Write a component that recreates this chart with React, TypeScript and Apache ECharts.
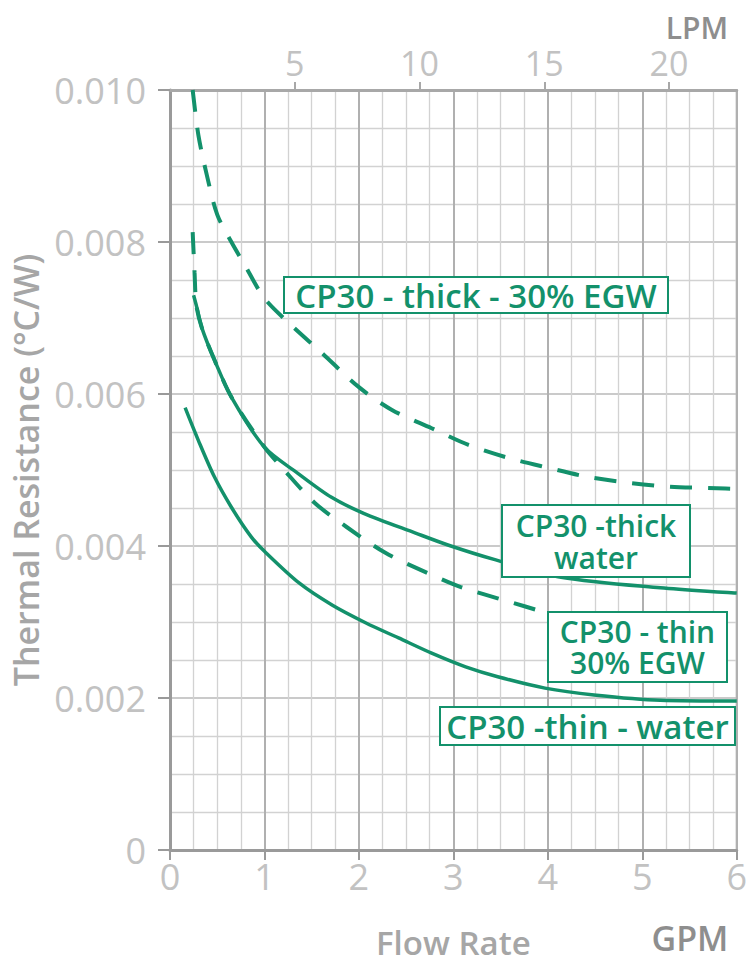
import React, { useEffect, useRef } from "react";
import * as echarts from "echarts";

// ---- data ----
const gpmMax = 6;
const lpmPerGpm = 3.785411784;
const yTicksMax = 0.01;
const lpmTicks = [5, 10, 15, 20];

const thickEgwX = [0.24, 0.3, 0.39, 0.5, 0.65, 0.79, 1.0, 1.28, 1.6, 2.0, 2.35, 2.77, 3.16, 3.58, 4.0, 4.42, 4.87, 5.29, 5.79, 6.0];
const thickEgwR = [0.0100, 0.00941, 0.00888, 0.00836, 0.0080, 0.0077, 0.00726, 0.00691, 0.00655, 0.00609, 0.00579, 0.00555, 0.00533, 0.00516, 0.00503, 0.00491, 0.00483, 0.00478, 0.00476, 0.00475];

const thinEgwX = [0.24, 0.26, 0.28, 0.34, 0.47, 0.65, 1.0, 1.18, 1.53, 1.87, 2.28, 2.7, 3.08, 3.61, 3.96];
const thinEgwR = [0.00813, 0.0076, 0.00716, 0.00686, 0.00645, 0.00596, 0.0053, 0.00504, 0.00457, 0.00425, 0.00391, 0.00366, 0.00346, 0.00326, 0.00313];

const thickWaterX = [0.25, 0.28, 0.34, 0.47, 0.65, 1.0, 1.35, 1.71, 2.05, 2.6, 2.95, 3.44, 4.14, 5.19, 6.0];
const thickWaterR = [0.0073, 0.00716, 0.00686, 0.00645, 0.00596, 0.0053, 0.00496, 0.00464, 0.00443, 0.00417, 0.00401, 0.00382, 0.00359, 0.00345, 0.00338];

const thinWaterX = [0.16, 0.3, 0.47, 0.65, 0.86, 1.0, 1.37, 1.72, 2.07, 2.42, 2.77, 3.13, 3.47, 3.97, 4.49, 5.19, 6.0];
const thinWaterR = [0.00582, 0.00539, 0.00491, 0.00451, 0.00412, 0.00393, 0.00351, 0.00322, 0.00299, 0.00279, 0.00259, 0.00241, 0.00228, 0.00213, 0.00204, 0.00197, 0.00196];

const seriesNames = ["CP30 - thick - 30% EGW", "CP30 - thin - 30% EGW", "CP30 - thick - water", "CP30 - thin - water"];

const GREEN = "#13916b";
const FONT = "'Open Sans', 'Noto Sans', sans-serif";

const zip = (xs: number[], ys: number[]) => xs.map((x, i) => [x, ys[i]]);

function labelBox(cx: number, cy: number, w: number, h: number, lines: string[], fontSize: number, lineGap: number) {
  const top = cy - ((lines.length - 1) * lineGap) / 2;
  return {
    type: "group",
    z: 50,
    children: [
      {
        type: "rect",
        z: 50,
        shape: { x: cx - w / 2, y: cy - h / 2, width: w, height: h },
        style: { fill: "#ffffff", stroke: GREEN, lineWidth: 2 },
      },
      ...lines.map((t, i) => ({
        type: "text",
        z: 51,
        x: cx,
        y: top + i * lineGap,
        style: {
          text: t,
          fill: GREEN,
          fontSize,
          fontWeight: 600,
          fontFamily: FONT,
          align: "center",
          verticalAlign: "middle",
          lineHeight: fontSize,
        },
      })),
    ],
  };
}

export default function App() {
  const ref = useRef<HTMLDivElement>(null);

  useEffect(() => {
    if (!ref.current) return;
    const chart = echarts.init(ref.current, undefined, { renderer: "svg" });

    const dashed = { width: 4, type: [22, 16], color: GREEN, cap: "butt" };
    const solid = { width: 3.5, type: "solid", color: GREEN };
    const common = { type: "line", showSymbol: false, symbol: "none", smooth: 0.3 };

    const option: any = {
      animation: false,
      backgroundColor: "#ffffff",
      grid: {
        left: 170,
        right: 10,
        top: 90,
        bottom: 114,
        show: true,
        borderColor: "#a8a8a8",
        borderWidth: 2,
        backgroundColor: "transparent",
      },
      xAxis: [
        {
          type: "value",
          position: "bottom",
          min: 0,
          max: gpmMax,
          interval: 1,
          name: "Flow Rate",
          nameLocation: "middle",
          nameGap: 76,
          nameTextStyle: { fontSize: 33, fontWeight: 600, color: "#a6a6a6", fontFamily: FONT },
          axisLine: { show: true, lineStyle: { color: "#9a9a9a", width: 3 } },
          axisTick: { show: true, inside: false, length: 10, lineStyle: { color: "#9a9a9a", width: 2 } },
          axisLabel: { fontSize: 36, color: "#c2c2c2", fontFamily: FONT, margin: 8 },
          splitLine: { show: true, lineStyle: { color: "#b0b0b0", width: 2 } },
          minorTick: { show: false, splitNumber: 4 },
          minorSplitLine: { show: true, lineStyle: { color: "#d2d2d2", width: 1.3 } },
        },
        {
          type: "value",
          position: "top",
          min: 0,
          max: gpmMax * lpmPerGpm,
          interval: 5,
          axisLine: { show: true, lineStyle: { color: "#a8a8a8", width: 3 } },
          axisTick: { show: true, inside: false, length: 8, customValues: lpmTicks, lineStyle: { color: "#a8a8a8", width: 2 } },
          axisLabel: {
            fontSize: 34,
            color: "#c2c2c2",
            fontFamily: FONT,
            margin: 10,
            customValues: lpmTicks,
            formatter: (v: number) => (lpmTicks.indexOf(v) >= 0 ? String(v) : ""),
          },
          splitLine: { show: false },
        },
      ],
      yAxis: {
        type: "value",
        min: 0,
        max: yTicksMax,
        interval: 0.002,
        name: "Thermal Resistance (°C/W)",
        nameLocation: "middle",
        nameGap: 126,
        nameTextStyle: { fontSize: 34, fontWeight: 600, color: "#a6a6a6", fontFamily: FONT },
        axisLine: { show: true, lineStyle: { color: "#9a9a9a", width: 3 } },
        axisTick: { show: true, inside: false, length: 12, lineStyle: { color: "#9a9a9a", width: 2 } },
        axisLabel: {
          fontSize: 36,
          color: "#c2c2c2",
          fontFamily: FONT,
          margin: 24,
          formatter: (v: number) => (v === 0 ? "0" : v.toFixed(3)),
        },
        splitLine: { show: true, lineStyle: { color: "#b8b8b8", width: 1.6 } },
        minorTick: { show: false, splitNumber: 4 },
        minorSplitLine: { show: true, lineStyle: { color: "#d2d2d2", width: 1.3 } },
      },
      series: [
        { ...common, name: seriesNames[0], data: zip(thickEgwX, thickEgwR), lineStyle: dashed, z: 3 },
        { ...common, name: seriesNames[1], data: zip(thinEgwX, thinEgwR), lineStyle: dashed, z: 3 },
        { ...common, name: seriesNames[2], data: zip(thickWaterX, thickWaterR), lineStyle: solid, z: 4 },
        { ...common, name: seriesNames[3], data: zip(thinWaterX, thinWaterR), lineStyle: solid, z: 4 },
      ],
      graphic: [
        labelBox(476, 295, 384, 36, ["CP30 - thick - 30% EGW"], 33, 0),
        labelBox(596, 541, 188, 72, ["CP30 -thick", "water"], 30, 32),
        labelBox(637.5, 647, 179, 70, ["CP30 - thin", "30% EGW"], 30, 31),
        labelBox(587.5, 726, 295, 38, ["CP30 -thin - water"], 33, 0),
        {
          type: "text",
          z: 20,
          x: 697,
          y: 27,
          style: { text: "LPM", fill: "#8e8e8e", fontSize: 30, fontWeight: 600, fontFamily: FONT, align: "center", verticalAlign: "middle" },
        },
        {
          type: "text",
          z: 20,
          x: 690,
          y: 938,
          style: { text: "GPM", fill: "#8e8e8e", fontSize: 34, fontWeight: 600, fontFamily: FONT, align: "center", verticalAlign: "middle" },
        },
      ],
    };

    chart.setOption(option);
    return () => chart.dispose();
  }, []);

  return (
    <div
      ref={ref}
      style={{ position: "fixed", left: 0, top: 0, width: 750, height: 964, background: "#fff" }}
    />
  );
}
